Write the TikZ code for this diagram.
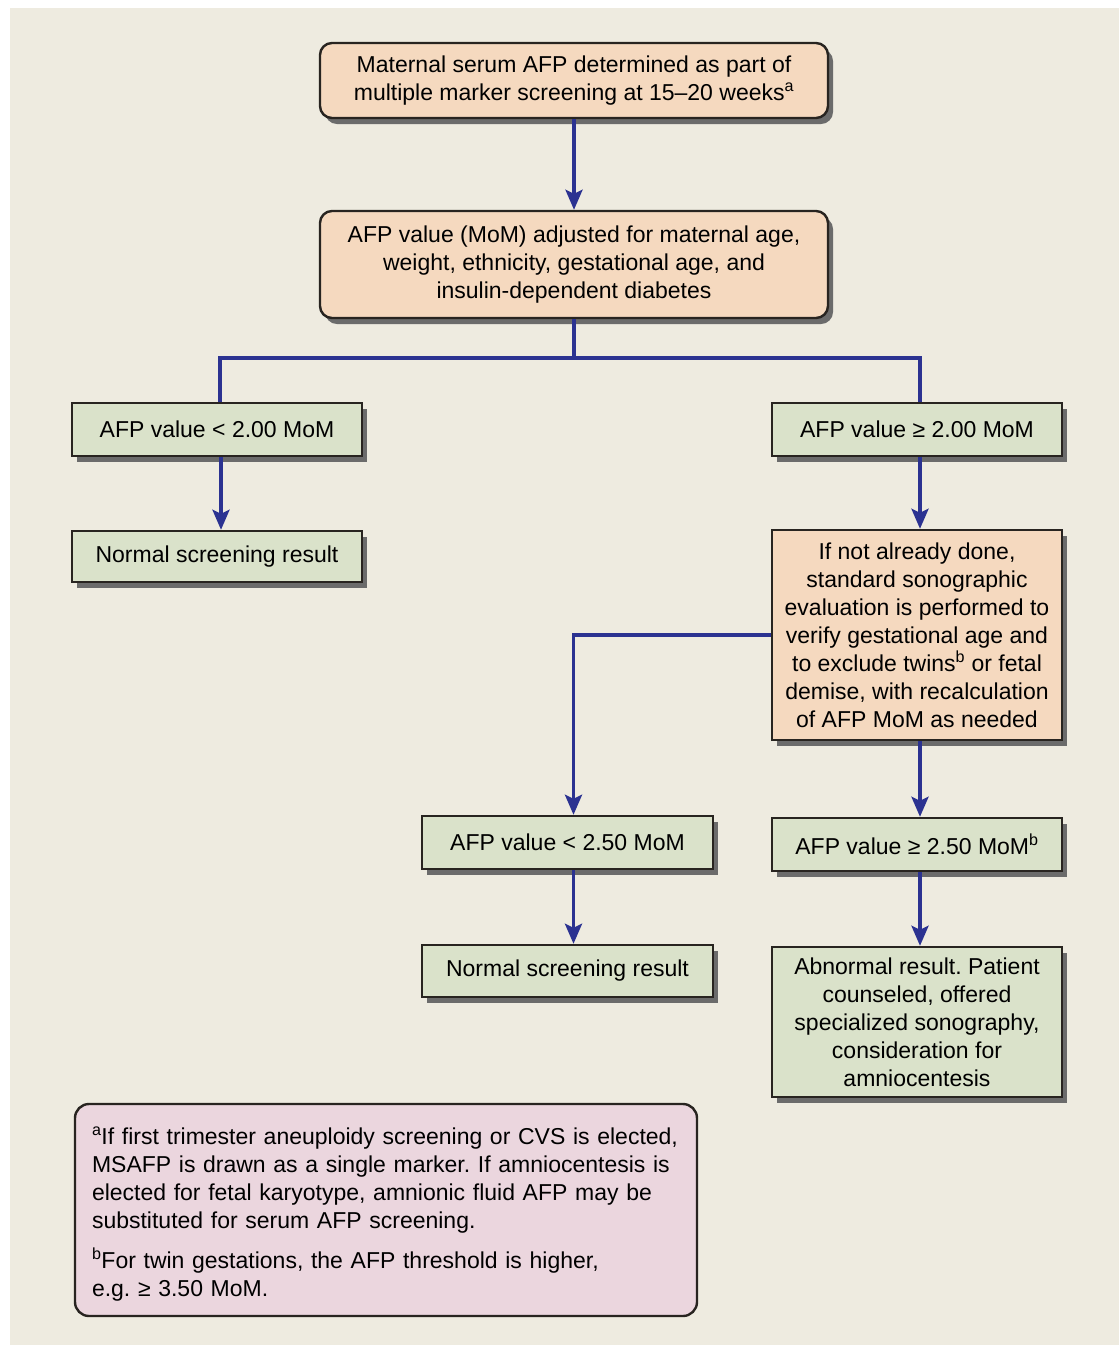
\documentclass[tikz,border=0pt]{standalone}
\usepackage{fontspec}
\setmainfont{Liberation Sans}
\usetikzlibrary{arrows.meta,shadows}

\definecolor{panel}{RGB}{238,235,224}
\definecolor{peach}{RGB}{245,217,191}
\definecolor{sage}{RGB}{218,226,202}
\definecolor{blush}{RGB}{235,214,222}
\definecolor{navy}{RGB}{43,50,145}
\definecolor{edge}{RGB}{40,36,32}

\frenchspacing
\newcommand{\sups}[1]{\textsuperscript{#1}}
\tikzset{
            box/.style={draw=edge, line width=2.4pt, align=center, inner sep=0pt,
                        drop shadow={shadow xshift=5pt, shadow yshift=-6pt, fill=black!58, opacity=1}},
            adjust/.style={box, fill=peach},
            result/.style={box, fill=sage},
            note/.style={draw=edge, line width=2.4pt, fill=blush, rounded corners=14pt, align=left, inner sep=0pt},
            flow/.style={draw=navy, line width=3.5pt},
            arr/.style={flow, -{Stealth[length=20pt, width=17pt, inset=4pt]}}
        }

\begin{document}
\begin{tikzpicture}[
                    x=1pt, y=-1pt,
                    every node/.style={font=\fontsize{23}{28}\selectfont}
                    ]
                \useasboundingbox (0,0) rectangle (1119,1345);
                \fill[panel] (10,8) rectangle (1119,1345);

                % top of the chart
                \node[adjust, rounded corners=12pt, minimum width=508pt, minimum height=75pt] (serum) at (574,80.5)
                    {Maternal serum AFP determined as part of\\multiple marker screening at 15--20 weeks\sups{a}};
                \node[adjust, rounded corners=12pt, minimum width=508pt, minimum height=107pt] (mom) at (574,264.5)
                    {AFP value (MoM) adjusted for maternal age,\\weight, ethnicity, gestational age, and\\insulin-dependent diabetes};

                % first threshold
                \node[result, minimum width=290pt, minimum height=53pt] (lowA) at (217,429.5) {AFP value < 2.00 MoM};
                \node[result, minimum width=290pt, minimum height=53pt] (highA) at (917,429.5) {AFP value ≥ 2.00 MoM};
                \node[result, minimum width=290pt, minimum height=51pt] (normA) at (217,556.5) {Normal screening result};
                \node[adjust, minimum width=290pt, minimum height=210pt] (sono) at (917,635)
                    {If not already done,\\standard sonographic\\evaluation is performed to\\verify gestational age and\\to exclude twins\sups{b} or fetal\\demise, with recalculation\\of AFP MoM as needed};

                % second threshold
                \node[result, minimum width=291pt, minimum height=53pt] (lowB) at (567.5,842.5) {AFP value < 2.50 MoM};
                \node[result, minimum width=290pt, minimum height=53pt] (highB) at (917,844.5) {AFP value ≥ 2.50 MoM\sups{b}};
                \node[result, minimum width=291pt, minimum height=52pt] (normB) at (567.5,971) {Normal screening result};
                \node[result, minimum width=290pt, minimum height=150pt] (abnormal) at (917,1022)
                    {Abnormal result. Patient\\counseled, offered\\specialized sonography,\\consideration for\\amniocentesis};

                % footnotes
                \node[note, minimum width=622pt, minimum height=212pt, text width=588pt] (notes) at (386,1210)
                    {\rule{0pt}{25pt}\sups{a}If first trimester aneuploidy screening or CVS is elected,\\
                     MSAFP is drawn as a single marker. If amniocentesis is\\
                     elected for fetal karyotype, amnionic fluid AFP may be\\
                     substituted for serum AFP screening.\\[12pt]
                     \sups{b}For twin gestations, the AFP threshold is higher,\\
                     e.g. ≥ 3.50 MoM.};

                % connectors
                \draw[arr] (serum) -- (mom);
                \coordinate (split) at (574,358);
                \draw[flow] (mom) -- (split);
                \draw[flow] (split) -| ([xshift=3pt]lowA.north);
                \draw[flow] (split) -| ([xshift=3pt]highA.north);
                \draw[arr] ([xshift=4pt]lowA.south) -- ([xshift=4pt]normA.north);
                \draw[arr] ([xshift=3pt]highA.south) -- ([xshift=3pt]sono.north);
                \draw[arr] (sono.west) -| ([xshift=6pt]lowB.north);
                \draw[arr] ([xshift=3pt]sono.south) -- ([xshift=3pt]highB.north);
                \draw[arr] ([xshift=6pt]lowB.south) -- ([xshift=6pt]normB.north);
                \draw[arr] ([xshift=3pt]highB.south) -- ([xshift=3pt]abnormal.north);
            \end{tikzpicture}
\end{document}
